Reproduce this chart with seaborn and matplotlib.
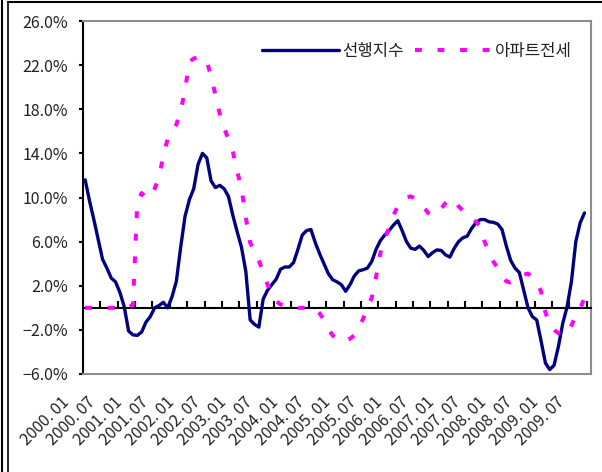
import numpy as np
import pandas as pd
import matplotlib
matplotlib.use("Agg")
import matplotlib.pyplot as plt
from matplotlib.lines import Line2D
from matplotlib.transforms import ScaledTranslation
import seaborn as sns

# monthly values, 2000.01 ~ 2009.08 (YoY %)
leading = [
    11.6, 9.7, 8.0, 6.2, 4.4, 3.6, 2.7, 2.35, 1.4, 0.1,
    -2.1, -2.45, -2.5, -2.2, -1.3, -0.8, 0.0, 0.2, 0.5, 0.0,
    1.0, 2.4, 5.5, 8.3, 9.8, 10.8, 13.0, 14.0, 13.6, 11.5,
    10.9, 11.1, 10.8, 10.1, 8.4, 6.9, 5.5, 3.3, -1.1, -1.5,
    -1.75, 0.8, 1.6, 2.1, 2.6, 3.5, 3.7, 3.7, 4.1, 5.3,
    6.6, 7.0, 7.1, 5.9, 4.9, 4.0, 3.1, 2.55, 2.35, 2.1,
    1.5, 2.1, 2.9, 3.35, 3.45, 3.6, 4.2, 5.3, 6.1, 6.6,
    7.0, 7.5, 7.9, 7.0, 6.0, 5.4, 5.3, 5.6, 5.2, 4.65,
    5.0, 5.25, 5.2, 4.8, 4.6, 5.4, 6.0, 6.35, 6.5, 7.2,
    7.7, 8.0, 8.0, 7.8, 7.75, 7.6, 7.1, 5.6, 4.3, 3.6,
    3.2, 1.6, 0.0, -0.8, -1.1, -3.0, -5.0, -5.6, -5.2, -3.5,
    -1.4, 0.1, 2.4, 6.0, 7.7, 8.6,
]
jeonse = [
    0.0, 0.0, 0.0, 0.0, 0.0, 0.0, 0.0, 0.0, 0.0, 0.0,
    0.0, 0.3, 9.5, 10.4, 10.0, 10.0, 10.8, 11.8, 13.8, 15.3,
    16.0, 16.6, 17.8, 19.8, 22.3, 22.6, 22.7, 22.7, 22.4, 21.0,
    19.3, 17.6, 16.3, 15.3, 14.2, 12.4, 10.8, 8.2, 5.9, 5.2,
    4.3, 3.2, 2.1, 1.2, 0.6, 0.3, 0.2, 0.2, 0.2, 0.0,
    0.0, 0.0, 0.0, -0.1, -0.5, -1.1, -1.9, -2.5, -2.9, -3.0,
    -3.0, -2.8, -2.5, -1.9, -1.0, 0.0, 0.9, 2.8, 5.0, 6.2,
    7.3, 8.4, 9.2, 9.7, 10.0, 10.1, 9.9, 9.6, 9.1, 8.6,
    8.4, 8.5, 9.0, 9.5, 9.9, 9.7, 9.2, 8.8, 8.4, 8.1,
    7.8, 7.4, 6.0, 5.0, 4.2, 3.6, 3.0, 2.4, 2.3, 2.5,
    2.8, 3.0, 3.1, 2.8, 2.2, 1.5, -0.4, -1.5, -2.0, -2.3,
    -2.5, -2.3, -1.6, -0.7, -0.1, 0.9,
]
tick_labels = [
    "2000. 01", "2000. 07", "2001. 01", "2001. 07", "2002. 01",
    "2002. 07", "2003. 01", "2003. 07", "2004. 01", "2004. 07",
    "2005. 01", "2005. 07", "2006. 01", "2006. 07", "2007. 01",
    "2007. 07", "2008. 01", "2008. 07", "2009. 01", "2009. 07",
]
n_months = 117  # 2000.01 ~ 2009.09 categories
y_ticks = [-6, -2, 2, 6, 10, 14, 18, 22, 26]
names = ["선행지수", "아파트전세"]

sns.set_theme(style="white")
plt.rcParams['font.family'] = ['Noto Sans CJK KR', 'DejaVu Sans']
txt_color = "#222222"

df = pd.DataFrame({"month": np.arange(len(leading)), names[0]: leading, names[1]: jeonse})

fig = plt.figure(figsize=(6.02, 4.72), dpi=100)
ax = fig.add_axes([83 / 602, 98 / 472, 508 / 602, 353 / 472])

sns.lineplot(data=df, x="month", y=names[0], ax=ax, color="#000080",
             linewidth=2.4, label=names[0], zorder=3)
sns.lineplot(data=df, x="month", y=names[1], ax=ax, color="#FF00FF",
             linewidth=2.9, linestyle=(0, (1.7, 3.9)), label=names[1], zorder=4)

ax.set_xlim(-0.5, n_months - 0.5)
ax.set_ylim(-6, 26)
ax.set_xlabel("")
ax.set_ylabel("")
ax.set_yticks(y_ticks)
ax.set_yticklabels([f"{v:.1f}%".replace("-", "\u2212") for v in y_ticks])

# frame: black left axis, grey border, category axis crossing at 0
ax.spines['left'].set_color("black")
ax.spines['left'].set_linewidth(1.5)
for s in ['top', 'right']:
    ax.spines[s].set_color("#8c8c8c")
    ax.spines[s].set_linewidth(1.5)
ax.spines['bottom'].set_position(('data', 0))
ax.spines['bottom'].set_color("black")
ax.spines['bottom'].set_linewidth(1.5)

ax.set_xticks(np.arange(3.5, n_months - 0.5, 4))
ax.tick_params(axis='x', bottom=True, direction='in', length=5, width=1.5,
               color="black", labelbottom=False)
ax.tick_params(axis='y', left=True, direction='out', length=3, width=1.5,
               color="black", pad=8, labelsize=11.5, labelcolor=txt_color)

# date labels along the bottom border
ax2 = ax.twiny()
ax2.set_xlim(ax.get_xlim())
ax2.xaxis.set_ticks_position('bottom')
ax2.set_xticks(np.arange(0, n_months, 6))
ax2.set_xticklabels(tick_labels, rotation=45, ha='right', va='center',
                    rotation_mode='anchor', fontsize=11.5, color=txt_color)
ax2.tick_params(axis='x', length=0, pad=0)
for s in ['top', 'left', 'right']:
    ax2.spines[s].set_visible(False)
ax2.spines['bottom'].set_color("#8c8c8c")
ax2.spines['bottom'].set_linewidth(1.5)
shift = ScaledTranslation(-0.18, -0.26, fig.dpi_scale_trans)
for lab in ax2.get_xticklabels():
    lab.set_transform(lab.get_transform() + shift)

leg = ax.legend(loc='center right', bbox_to_anchor=(0.963, 0.915), ncol=2,
                frameon=False, handlelength=4.6, handletextpad=0.2,
                columnspacing=0.7, borderpad=0, borderaxespad=0, fontsize=12)
for t in leg.get_texts():
    t.set_color(txt_color)

# outer chart border
fig.add_artist(Line2D([1.5 / 602, 1.5 / 602], [0, 1], transform=fig.transFigure,
                      color="black", lw=1.5))
fig.add_artist(Line2D([7.5 / 602, 7.5 / 602], [0, 1 - 1.5 / 472], transform=fig.transFigure,
                      color="black", lw=1.2))
fig.add_artist(Line2D([7.5 / 602, 1], [1 - 1.8 / 472, 1 - 1.8 / 472], transform=fig.transFigure,
                      color="black", lw=1.5))

fig.savefig("out.png", dpi=100)
